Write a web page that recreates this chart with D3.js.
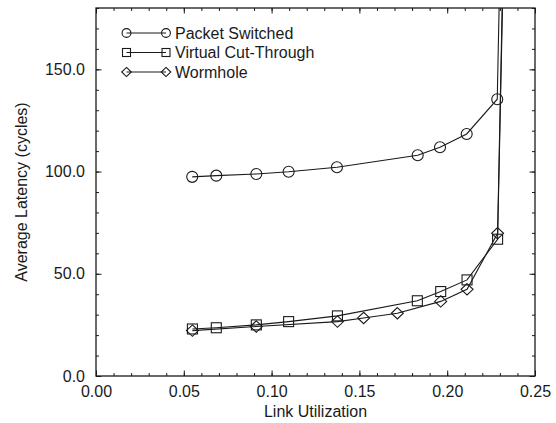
<!DOCTYPE html>
<html>
<head>
<meta charset="utf-8">
<script src="https://cdn.jsdelivr.net/npm/d3@7"></script>
<style>
  body { margin: 0; background: #fff; }
  text { font-family: "Liberation Sans", Arial, Helvetica, sans-serif; font-size: 16px; fill: #1a1a1a; }
</style>
</head>
<body>
<div id="graph"></div>
<script>
// Packet Switched
var psUtil = [0.0548, 0.0685, 0.0913, 0.1097, 0.1372, 0.1832, 0.1959, 0.2111, 0.2285, 0.2312]
var psLat = [97.4, 98.0, 98.8, 99.9, 102.1, 108.0, 111.9, 118.4, 135.4, 250]
// Virtual Cut-Through
var vctUtil = [0.0549, 0.0685, 0.0913, 0.1097, 0.1375, 0.1830, 0.1963, 0.2113, 0.2287, 0.2322]
var vctLat = [23.0, 23.6, 25.0, 26.6, 29.4, 36.8, 41.3, 47.0, 66.9, 210]
// Wormhole
var whUtil = [0.0549, 0.0913, 0.1375, 0.1524, 0.1716, 0.1963, 0.2113, 0.2287, 0.2320]
var whLat = [22.2, 24.2, 26.6, 28.4, 30.7, 36.5, 42.4, 69.8, 210]

var xTicks = [0, 0.05, 0.10, 0.15, 0.20, 0.25]
var yTicks = [0, 50, 100, 150]
var seriesNames = ['Packet Switched', 'Virtual Cut-Through', 'Wormhole']

var svg = d3
  .select('#graph')
  .append('svg')
  .attr('width', 556)
  .attr('height', 423)

var x = d3.scaleLinear().domain([0, 0.25]).range([96, 535])
var y = d3.scaleLinear().domain([0, 180]).range([376, 8])

var ink = '#1a1a1a'
var minorX = d3.range(0, 0.2501, 0.01)
var minorY = d3.range(0, 181, 10)

function styleAxis(sel) {
  sel.select('.domain').remove()
  sel.selectAll('line').attr('stroke', ink)
  sel.selectAll('text').style('font-size', '16px').attr('fill', ink)
}

// minor ticks, all four sides
svg.append('g').attr('transform', 'translate(0,376)')
  .call(d3.axisBottom(x).tickValues(minorX).tickSize(-3).tickFormat('')).call(styleAxis)
svg.append('g').attr('transform', 'translate(0,8)')
  .call(d3.axisTop(x).tickValues(minorX).tickSize(-3).tickFormat('')).call(styleAxis)
svg.append('g').attr('transform', 'translate(96,0)')
  .call(d3.axisLeft(y).tickValues(minorY).tickSize(-3).tickFormat('')).call(styleAxis)
svg.append('g').attr('transform', 'translate(535,0)')
  .call(d3.axisRight(y).tickValues(minorY).tickSize(-3).tickFormat('')).call(styleAxis)

// major ticks with labels
svg.append('g').attr('transform', 'translate(0,376)')
  .call(d3.axisBottom(x).tickValues(xTicks).tickSize(-5.5).tickPadding(10).tickFormat(d3.format('.2f')))
  .call(styleAxis)
svg.append('g').attr('transform', 'translate(0,8)')
  .call(d3.axisTop(x).tickValues(xTicks).tickSize(-5.5).tickFormat('')).call(styleAxis)
svg.append('g').attr('transform', 'translate(96,0)')
  .call(d3.axisLeft(y).tickValues(yTicks).tickSize(-5.5).tickPadding(11).tickFormat(d3.format('.1f')))
  .call(styleAxis)
svg.append('g').attr('transform', 'translate(535,0)')
  .call(d3.axisRight(y).tickValues(yTicks).tickSize(-5.5).tickFormat('')).call(styleAxis)

// frame
svg.append('rect')
  .attr('x', 96).attr('y', 8)
  .attr('width', 535 - 96).attr('height', 376 - 8)
  .attr('fill', 'none').attr('stroke', ink).attr('stroke-width', 1.3)

svg.append('clipPath').attr('id', 'plot')
  .append('rect').attr('x', 96).attr('y', 8).attr('width', 439).attr('height', 368)

var series = [
  { name: seriesNames[0], util: psUtil, lat: psLat, shape: 'circle' },
  { name: seriesNames[1], util: vctUtil, lat: vctLat, shape: 'square' },
  { name: seriesNames[2], util: whUtil, lat: whLat, shape: 'diamond' },
]

function marker(g, shape, cx, cy, s) {
  if (shape == 'circle') {
    g.append('circle').attr('cx', cx).attr('cy', cy).attr('r', 5.5 * s)
  } else if (shape == 'square') {
    var h = 5 * s
    g.append('rect').attr('x', cx - h).attr('y', cy - h).attr('width', 2 * h).attr('height', 2 * h)
  } else {
    var w = 6 * s, v = 5.7 * s
    g.append('path').attr('d', 'M' + cx + ',' + (cy - v) + 'L' + (cx + w) + ',' + cy +
      'L' + cx + ',' + (cy + v) + 'L' + (cx - w) + ',' + cy + 'Z')
  }
}

var plot = svg.append('g').attr('clip-path', 'url(#plot)')

series.forEach(function(s) {
  var pts = s.util.map(function(u, i) { return [u, s.lat[i]] })
  plot.append('path')
    .datum(pts)
    .attr('fill', 'none')
    .attr('stroke', ink)
    .attr('stroke-width', 1.1)
    .attr('d', d3.line().x(d => x(d[0])).y(d => y(d[1])))
  var mg = plot.append('g').attr('fill', 'none').attr('stroke', ink).attr('stroke-width', 1.1)
  pts.forEach(function(d) {
    if (d[1] <= 180) marker(mg, s.shape, x(d[0]), y(d[1]), 1)
  })
})

// legend
var legend = svg.append('g')
series.forEach(function(s, i) {
  var ly = 33 + i * 19.5
  var lg = legend.append('g').attr('fill', 'none').attr('stroke', ink).attr('stroke-width', 1.1)
  lg.append('line').attr('x1', 126.5).attr('x2', 166).attr('y1', ly).attr('y2', ly)
  marker(lg, s.shape, 126.5, ly, 0.8)
  marker(lg, s.shape, 166, ly, 0.8)
  legend.append('text')
    .attr('x', 175)
    .attr('y', ly)
    .attr('dy', '0.36em')
    .text(s.name)
})

// axis titles
svg.append('text')
  .attr('x', 315.5)
  .attr('y', 417)
  .attr('text-anchor', 'middle')
  .text('Link Utilization')

svg.append('text')
  .attr('transform', 'translate(27,192) rotate(-90)')
  .attr('text-anchor', 'middle')
  .text('Average Latency (cycles)')
</script>
</body>
</html>
